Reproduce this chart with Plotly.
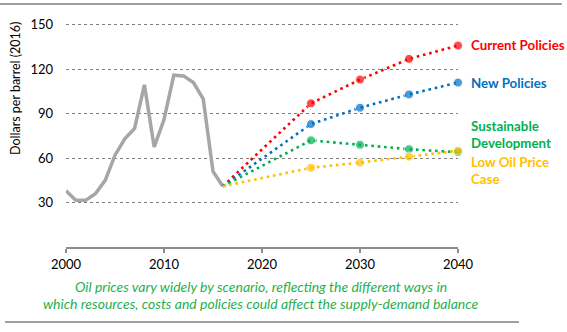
import plotly.graph_objects as go

hist_years = list(range(2000, 2017))
hist_prices = [38, 31.5, 31.5, 36, 45, 62, 73, 80, 109.5, 67.5, 86, 116, 115.5, 111, 100, 51, 41]

proj_years = [2016, 2025, 2030, 2035, 2040]
current_policies = [41, 97, 113, 127, 136]
new_policies = [41, 83, 94, 103, 111]
sustainable = [41, 72, 69, 66, 64]
low_oil = [41, 53.5, 57, 61, 65]

scenario_names = ["Current Policies", "New Policies", "Sustainable<br>Development", "Low Oil Price<br>Case"]
scenario_values = [current_policies, new_policies, sustainable, low_oil]
scenario_colors = ["#FF0000", "#0070C0", "#00B050", "#FFC000"]
label_pos = [0.852, 0.693, 0.4726, 0.3207]

y_ticks = [30, 60, 90, 120, 150]
x_ticks = [2000, 2010, 2020, 2030, 2040]

fig = go.Figure()
fig.add_trace(go.Scatter(x=hist_years, y=hist_prices, mode="lines",
                         line=dict(color="#A6A6A6", width=3.5), showlegend=False,
                         cliponaxis=False))

for name, vals, col in zip(scenario_names, scenario_values, scenario_colors):
    fig.add_trace(go.Scatter(x=proj_years, y=vals, mode="lines+markers",
                             line=dict(color=col, width=2.6, dash="2.6px,3.8px"),
                             marker=dict(color=col, size=[0, 9, 9, 9, 9]),
                             showlegend=False, cliponaxis=False))

for name, ly, col in zip(scenario_names, label_pos, scenario_colors):
    fig.add_annotation(x=1.028, y=ly, xref="paper", yref="paper", text="<b>" + name + "</b>",
                       showarrow=False, xanchor="left", yanchor="middle", align="left",
                       font=dict(family="Lato", size=13.3, color=col))

fig.add_annotation(x=-0.1276, y=0.671, xref="paper", yref="paper",
                   text="Dollars per barrel (2016)", textangle=-90, showarrow=False,
                   xanchor="center", yanchor="middle",
                   font=dict(family="Lato", size=12.5, color="#000000"))

caption_color = "#1FAF4E"
fig.add_annotation(x=0.497, y=-0.1646, xref="paper", yref="paper",
                   text="<i>Oil prices vary widely by scenario, reflecting the different ways in</i>",
                   showarrow=False, yanchor="middle",
                   font=dict(family="Lato", size=14, color=caption_color))
fig.add_annotation(x=0.497, y=-0.2405, xref="paper", yref="paper",
                   text="<i>which resources, costs and policies could affect the supply-demand balance</i>",
                   showarrow=False, yanchor="middle",
                   font=dict(family="Lato", size=14, color=caption_color))

fig.add_shape(type="line", xref="paper", yref="paper", x0=-0.17, x1=1.265, y0=1.0253, y1=1.0253,
              line=dict(color="#A0A0A0", width=2))
fig.add_shape(type="line", xref="paper", yref="paper", x0=-0.1556, x1=1.1556, y0=-0.3165, y1=-0.3165,
              line=dict(color="#A0A0A0", width=2))

fig.update_layout(
    width=567, height=332,
    margin=dict(l=66, r=109, t=10, b=85),
    paper_bgcolor="white", plot_bgcolor="white",
    font=dict(family="Lato", size=12, color="#000000"),
    xaxis=dict(range=[2000, 2040], tickvals=x_ticks, showgrid=False,
               showline=True, linecolor="#8C8C8C", linewidth=2,
               ticks="outside", ticklen=4, tickcolor="#8C8C8C", tickwidth=1.5,
               tickfont=dict(family="Lato", size=13), zeroline=False),
    yaxis=dict(range=[0, 160], tickvals=y_ticks, showgrid=True,
               gridcolor="#7F7F7F", griddash="dot", gridwidth=1,
               showline=False, zeroline=False, ticks="",
               ticklabelstandoff=12,
               tickfont=dict(family="Lato", size=13)),
)

fig.write_html("out.html")
